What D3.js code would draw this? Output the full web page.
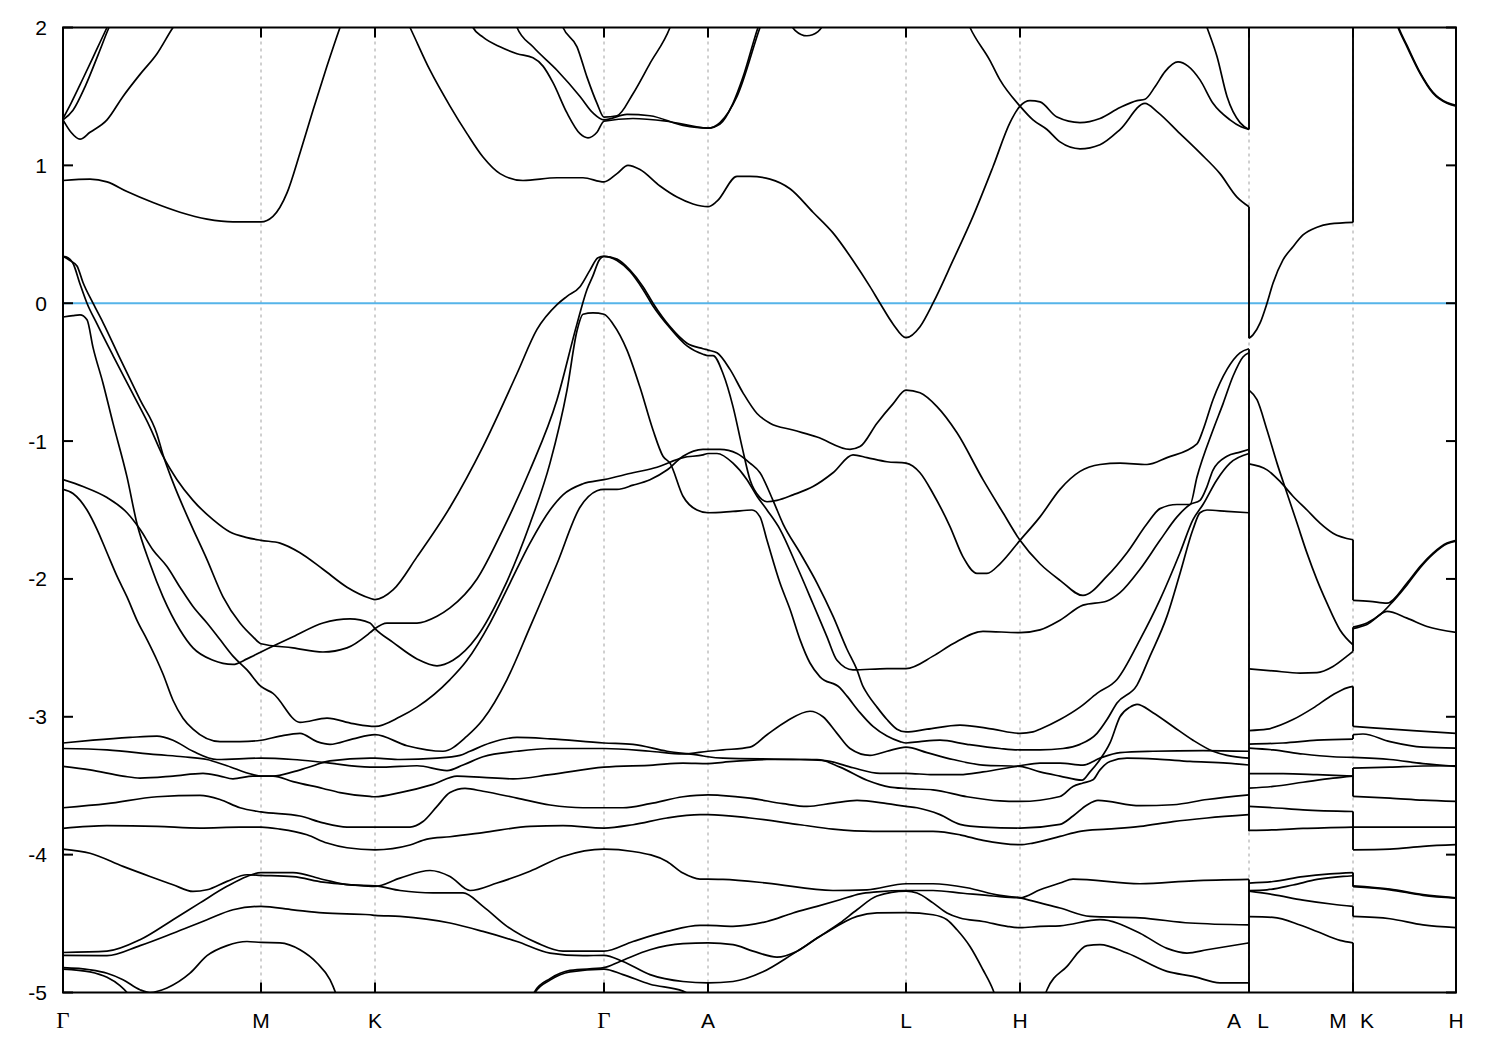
<!DOCTYPE html>
<html>
<head>
<meta charset="utf-8">
<script src="https://cdn.jsdelivr.net/npm/d3@7"></script>
<style>
  html, body { margin: 0; padding: 0; background: #ffffff; }
  svg { display: block; }
</style>
</head>
<body>
<svg id="chart" width="1500" height="1050"></svg>
<script>
// ---------------- DATA (k = path distance, E in eV) ----------------
const tickK = [0, 1.98, 3.12, 5.41, 6.45, 8.43, 9.57, 11.86, 12.90, 13.93];
const tickLabels = ["Γ", "M", "K", "Γ", "A", "L", "H", "A|L", "M|K", "H"];
const yTicks = [-5, -4, -3, -2, -1, 0, 1, 2];
const kRange = [0, 13.93];
const eRange = [-5, 2];

// segment Γ-M-K-Γ-A-L-H-A
const bandT1 = [[0,1.34],[0.08,1.45],[0.2,1.63],[0.33,1.83],[0.44,2.0],[0.52,2.12]];
const bandT2 = [[0,1.33],[0.1,1.4],[0.22,1.57],[0.35,1.8],[0.46,2.0],[0.54,2.12]];
const bandT3 = [[0,1.33],[0.08,1.24],[0.17,1.19],[0.27,1.24],[0.44,1.33],[0.6,1.5],[0.77,1.66],[0.94,1.81],[1.1,2.0],[1.2,2.1]];
const bandT4 = [[0,0.89],[0.27,0.9],[0.44,0.88],[0.64,0.81],[0.9,0.73],[1.17,0.66],[1.44,0.61],[1.7,0.59],[1.98,0.59],[2.1,0.63],[2.24,0.8],[2.37,1.09],[2.5,1.4],[2.64,1.72],[2.77,2.0],[2.87,2.2]];
const bandT5 = [[3.3,2.25],[3.47,2.0],[3.67,1.69],[3.87,1.43],[4.04,1.23],[4.2,1.06],[4.37,0.94],[4.6,0.89],[4.94,0.91],[5.2,0.91],[5.41,0.88],[5.54,0.94],[5.65,1.0],[5.77,0.97],[5.97,0.85],[6.14,0.77],[6.3,0.72],[6.45,0.7],[6.54,0.74],[6.74,0.92],[6.87,0.92],[7.07,0.9],[7.27,0.83],[7.5,0.66],[7.7,0.51],[7.9,0.31],[8.07,0.12],[8.17,0],[8.3,-0.15],[8.43,-0.25],[8.57,-0.17],[8.7,0],[8.9,0.31],[9.1,0.63],[9.3,0.99],[9.47,1.31],[9.57,1.43],[9.67,1.47],[9.77,1.46],[9.94,1.35],[10.17,1.31],[10.37,1.34],[10.57,1.42],[10.74,1.47],[10.82,1.48],[10.92,1.57],[11.02,1.68],[11.15,1.75],[11.25,1.72],[11.37,1.62],[11.5,1.45],[11.67,1.33],[11.78,1.28],[11.86,1.26]];
const bandT6 = [[4.05,2.1],[4.1,2.0],[4.2,1.93],[4.37,1.86],[4.54,1.81],[4.7,1.78],[4.8,1.72],[4.9,1.6],[5.04,1.38],[5.17,1.23],[5.25,1.2],[5.34,1.24],[5.41,1.32],[5.7,1.34],[6.04,1.32],[6.45,1.27],[6.57,1.3],[6.7,1.45],[6.8,1.64],[6.95,2.0],[7.0,2.1]];
const bandT7 = [[4.49,2.1],[4.54,2.0],[4.7,1.86],[4.94,1.69],[5.17,1.5],[5.3,1.38],[5.41,1.33],[5.64,1.37],[5.87,1.36],[6.2,1.29],[6.45,1.27],[6.57,1.31],[6.74,1.5],[6.97,2.0],[7.02,2.1]];
const bandT8 = [[4.95,2.1],[5.0,2.0],[5.14,1.86],[5.24,1.64],[5.34,1.45],[5.41,1.35],[5.54,1.36],[5.7,1.52],[5.87,1.74],[6.07,2.0],[6.12,2.1]];
const bandT9 = [[7.25,2.05],[7.32,1.98],[7.44,1.94],[7.55,1.97],[7.63,2.05]];
const bandT10 = [[9.0,2.12],[9.07,2.0],[9.27,1.76],[9.37,1.62],[9.57,1.43],[9.7,1.33],[9.84,1.26],[9.97,1.17],[10.17,1.12],[10.37,1.15],[10.57,1.26],[10.82,1.45],[10.94,1.39],[11.17,1.23],[11.37,1.09],[11.57,0.94],[11.74,0.77],[11.86,0.7]];
const bandT11 = [[11.38,2.12],[11.44,2.0],[11.54,1.79],[11.64,1.5],[11.77,1.31],[11.86,1.26]];

const bandVa = [[0,0.34],[0.05,0.33],[0.1,0.29],[0.17,0.14],[0.24,0],[0.34,-0.15],[0.5,-0.38],[0.7,-0.66],[0.87,-0.9],[1.0,-1.11],[1.14,-1.28],[1.3,-1.43],[1.5,-1.57],[1.67,-1.66],[1.84,-1.7],[1.98,-1.72],[2.17,-1.74],[2.37,-1.81],[2.6,-1.93],[2.84,-2.06],[3.07,-2.14],[3.12,-2.15],[3.3,-2.08],[3.54,-1.84],[3.87,-1.48],[4.2,-1.04],[4.54,-0.51],[4.74,-0.19],[4.94,-0.01],[5.04,0.05],[5.17,0.12],[5.27,0.24],[5.35,0.33],[5.41,0.34],[5.54,0.32],[5.67,0.24],[5.8,0.12],[5.9,0],[6.07,-0.17],[6.24,-0.29],[6.4,-0.33],[6.45,-0.34],[6.54,-0.36],[6.67,-0.48],[6.8,-0.65],[6.94,-0.8],[7.07,-0.87],[7.3,-0.92],[7.54,-0.97],[7.87,-1.06],[7.97,-1.04],[8.14,-0.87],[8.3,-0.73],[8.43,-0.63],[8.57,-0.65],[8.74,-0.75],[8.94,-0.94],[9.2,-1.28],[9.4,-1.52],[9.57,-1.72],[9.77,-1.89],[9.97,-2.01],[10.2,-2.12],[10.44,-1.98],[10.64,-1.81],[10.84,-1.6],[10.97,-1.49],[11.14,-1.46],[11.27,-1.46],[11.34,-1.26],[11.5,-0.92],[11.6,-0.73],[11.7,-0.53],[11.8,-0.39],[11.86,-0.36]];
const bandVb = [[0,0.34],[0.07,0.31],[0.14,0.27],[0.2,0.15],[0.3,0],[0.4,-0.14],[0.57,-0.4],[0.77,-0.7],[0.94,-0.95],[1.0,-1.1],[1.1,-1.3],[1.27,-1.59],[1.44,-1.86],[1.6,-2.13],[1.77,-2.32],[1.9,-2.42],[1.98,-2.47],[2.3,-2.5],[2.6,-2.53],[2.84,-2.5],[3.07,-2.39],[3.12,-2.36],[3.24,-2.32],[3.54,-2.32],[3.74,-2.27],[3.87,-2.21],[4.14,-2.0],[4.4,-1.64],[4.67,-1.21],[4.94,-0.7],[5.14,-0.15],[5.24,0.1],[5.3,0.2],[5.36,0.31],[5.41,0.34],[5.54,0.31],[5.67,0.23],[5.8,0.1],[5.9,-0.02],[6.07,-0.18],[6.24,-0.31],[6.4,-0.37],[6.45,-0.38],[6.5,-0.38],[6.6,-0.51],[6.7,-0.75],[6.79,-1.04],[6.87,-1.28],[6.97,-1.41],[7.04,-1.44],[7.14,-1.43],[7.3,-1.39],[7.5,-1.33],[7.7,-1.23],[7.9,-1.1],[8.04,-1.12],[8.24,-1.15],[8.43,-1.16],[8.57,-1.23],[8.7,-1.38],[8.87,-1.62],[9.0,-1.84],[9.14,-1.96],[9.24,-1.96],[9.37,-1.89],[9.57,-1.72],[9.77,-1.55],[9.97,-1.35],[10.17,-1.22],[10.37,-1.17],[10.57,-1.16],[10.84,-1.17],[11.04,-1.12],[11.34,-1.02],[11.4,-0.92],[11.5,-0.7],[11.64,-0.48],[11.77,-0.36],[11.86,-0.33]];
const bandVc = [[0,-0.1],[0.1,-0.09],[0.17,-0.085],[0.24,-0.12],[0.3,-0.32],[0.4,-0.58],[0.5,-0.87],[0.64,-1.26],[0.74,-1.6],[0.87,-1.89],[1.0,-2.13],[1.17,-2.37],[1.3,-2.5],[1.5,-2.59],[1.7,-2.62],[1.84,-2.58],[1.98,-2.53],[2.3,-2.42],[2.6,-2.32],[2.87,-2.29],[3.07,-2.32],[3.12,-2.36],[3.3,-2.46],[3.54,-2.58],[3.74,-2.63],[3.9,-2.59],[4.14,-2.42],[4.4,-2.08],[4.67,-1.6],[4.87,-1.16],[5.04,-0.63],[5.14,-0.2],[5.2,-0.08],[5.3,-0.07],[5.41,-0.08],[5.5,-0.15],[5.64,-0.34],[5.77,-0.61],[5.9,-0.92],[6.0,-1.11],[6.07,-1.16],[6.2,-1.4],[6.34,-1.5],[6.45,-1.52],[6.7,-1.51],[6.89,-1.5],[6.97,-1.55],[7.04,-1.72],[7.17,-2.03],[7.27,-2.22],[7.37,-2.44],[7.47,-2.61],[7.57,-2.71],[7.77,-2.79],[7.84,-2.85],[7.97,-2.97],[8.1,-3.07],[8.24,-3.14],[8.37,-3.18],[8.43,-3.19],[8.57,-3.18],[8.77,-3.17],[9.04,-3.2],[9.37,-3.23],[9.57,-3.24],[9.77,-3.24],[10.0,-3.23],[10.17,-3.2],[10.34,-3.12],[10.44,-3.02],[10.54,-2.9],[10.74,-2.77],[10.87,-2.56],[11.04,-2.27],[11.17,-1.96],[11.3,-1.64],[11.37,-1.52],[11.44,-1.5],[11.64,-1.51],[11.86,-1.52]];
const bandG1 = [[0,-1.28],[0.2,-1.33],[0.44,-1.41],[0.64,-1.52],[0.77,-1.64],[0.9,-1.79],[1.04,-1.91],[1.17,-2.06],[1.3,-2.2],[1.44,-2.32],[1.57,-2.44],[1.7,-2.56],[1.84,-2.66],[1.98,-2.78],[2.1,-2.83],[2.37,-3.04],[2.64,-3.01],[2.9,-3.05],[3.12,-3.07],[3.37,-3.0],[3.54,-2.93],[3.87,-2.73],[4.04,-2.59],[4.27,-2.32],[4.47,-2.03],[4.67,-1.74],[4.87,-1.5],[5.0,-1.39],[5.2,-1.31],[5.41,-1.28],[5.7,-1.23],[5.94,-1.19],[6.2,-1.12],[6.4,-1.1],[6.45,-1.09],[6.54,-1.09],[6.7,-1.16],[6.84,-1.28],[6.94,-1.4],[7.04,-1.5],[7.17,-1.64],[7.34,-1.91],[7.5,-2.18],[7.64,-2.42],[7.74,-2.59],[7.9,-2.66],[8.24,-2.65],[8.43,-2.65],[8.7,-2.56],[8.9,-2.47],[9.2,-2.38],[9.57,-2.39],[9.77,-2.37],[9.97,-2.3],[10.2,-2.19],[10.44,-2.16],[10.57,-2.1],[10.77,-1.93],[10.97,-1.72],[11.14,-1.55],[11.27,-1.46],[11.37,-1.43],[11.44,-1.33],[11.5,-1.21],[11.64,-1.11],[11.77,-1.08],[11.86,-1.06]];
const bandG2 = [[0,-1.35],[0.1,-1.38],[0.24,-1.5],[0.34,-1.64],[0.44,-1.81],[0.54,-1.98],[0.64,-2.13],[0.74,-2.3],[0.84,-2.44],[0.94,-2.59],[1.0,-2.69],[1.1,-2.88],[1.2,-3.01],[1.3,-3.09],[1.57,-3.18],[1.77,-3.18],[1.98,-3.17],[2.17,-3.14],[2.37,-3.12],[2.54,-3.18],[2.67,-3.2],[2.9,-3.16],[3.12,-3.13],[3.44,-3.21],[3.8,-3.25],[4.04,-3.14],[4.2,-3.02],[4.44,-2.73],[4.67,-2.35],[4.94,-1.89],[5.17,-1.48],[5.34,-1.36],[5.41,-1.35],[5.54,-1.35],[5.7,-1.32],[5.87,-1.28],[6.04,-1.21],[6.2,-1.11],[6.4,-1.06],[6.45,-1.06],[6.57,-1.06],[6.74,-1.09],[6.87,-1.16],[6.97,-1.23],[7.1,-1.43],[7.2,-1.6],[7.37,-1.81],[7.54,-2.03],[7.7,-2.27],[7.84,-2.51],[7.94,-2.66],[8.0,-2.78],[8.04,-2.83],[8.14,-2.93],[8.24,-3.02],[8.34,-3.09],[8.43,-3.11],[8.64,-3.09],[8.97,-3.06],[9.3,-3.09],[9.57,-3.12],[9.7,-3.11],[9.77,-3.09],[9.97,-3.02],[10.17,-2.93],[10.34,-2.83],[10.54,-2.73],[10.77,-2.44],[10.97,-2.15],[11.17,-1.81],[11.3,-1.57],[11.4,-1.46],[11.54,-1.28],[11.67,-1.16],[11.86,-1.09]];

const bandP1 = [[0,-3.19],[0.3,-3.17],[0.67,-3.15],[0.94,-3.14],[1.1,-3.17],[1.3,-3.25],[1.54,-3.31],[1.98,-3.3],[2.3,-3.31],[2.6,-3.33],[3.07,-3.365],[3.2,-3.365],[3.54,-3.355],[3.84,-3.39],[4.0,-3.35],[4.2,-3.29],[4.54,-3.25],[4.87,-3.23],[5.41,-3.23],[5.87,-3.25],[6.2,-3.27],[6.45,-3.25],[6.6,-3.24],[6.87,-3.22],[7.04,-3.13],[7.24,-3.03],[7.47,-2.96],[7.6,-3.0],[7.74,-3.12],[7.87,-3.23],[8.07,-3.28],[8.24,-3.25],[8.43,-3.22],[8.64,-3.26],[8.9,-3.31],[9.2,-3.35],[9.57,-3.36],[9.77,-3.4],[9.97,-3.43],[10.19,-3.46],[10.27,-3.4],[10.37,-3.31],[10.47,-3.19],[10.57,-3.0],[10.67,-2.93],[10.74,-2.91],[10.9,-2.97],[11.1,-3.07],[11.3,-3.17],[11.5,-3.25],[11.64,-3.28],[11.86,-3.3]];
const bandP2 = [[0,-3.23],[0.44,-3.24],[0.94,-3.275],[1.2,-3.29],[1.44,-3.31],[1.64,-3.355],[1.9,-3.42],[1.98,-3.43],[2.1,-3.43],[2.3,-3.47],[2.6,-3.52],[2.77,-3.55],[3.07,-3.578],[3.12,-3.58],[3.37,-3.55],[3.7,-3.49],[3.94,-3.43],[4.2,-3.44],[4.5,-3.45],[4.87,-3.42],[5.41,-3.365],[5.9,-3.35],[6.2,-3.336],[6.45,-3.34],[6.6,-3.33],[7.04,-3.31],[7.54,-3.31],[7.77,-3.365],[8.04,-3.46],[8.27,-3.51],[8.43,-3.52],[8.7,-3.53],[9.04,-3.58],[9.37,-3.61],[9.57,-3.614],[9.97,-3.578],[10.1,-3.505],[10.2,-3.48],[10.3,-3.457],[10.37,-3.385],[10.47,-3.324],[10.64,-3.3],[10.94,-3.307],[11.27,-3.324],[11.64,-3.336],[11.86,-3.35]];
const bandP3 = [[0,-3.36],[0.27,-3.385],[0.6,-3.43],[0.77,-3.445],[1.1,-3.43],[1.4,-3.41],[1.57,-3.43],[1.7,-3.45],[1.9,-3.43],[2.1,-3.43],[2.3,-3.4],[2.44,-3.37],[2.67,-3.32],[3.07,-3.3],[3.12,-3.3],[3.37,-3.31],[3.74,-3.3],[3.97,-3.28],[4.07,-3.25],[4.27,-3.19],[4.54,-3.15],[4.87,-3.16],[5.41,-3.19],[5.7,-3.2],[6.04,-3.25],[6.37,-3.28],[6.45,-3.29],[6.6,-3.3],[7.37,-3.31],[7.64,-3.32],[7.9,-3.37],[8.17,-3.41],[8.43,-3.41],[8.7,-3.42],[8.97,-3.42],[9.2,-3.4],[9.57,-3.355],[9.77,-3.336],[9.97,-3.336],[10.2,-3.35],[10.37,-3.3],[10.57,-3.26],[10.9,-3.25],[11.4,-3.245],[11.86,-3.25]];
const bandP4 = [[0,-3.66],[0.44,-3.63],[0.94,-3.58],[1.37,-3.57],[1.57,-3.6],[1.77,-3.66],[1.98,-3.69],[2.37,-3.72],[2.6,-3.77],[2.84,-3.8],[3.12,-3.8],[3.47,-3.8],[3.6,-3.76],[3.74,-3.65],[3.87,-3.55],[4.02,-3.52],[4.2,-3.54],[4.54,-3.59],[4.87,-3.64],[5.2,-3.66],[5.6,-3.66],[5.87,-3.63],[6.2,-3.58],[6.45,-3.566],[6.57,-3.57],[6.87,-3.59],[7.2,-3.63],[7.44,-3.65],[7.7,-3.626],[7.94,-3.607],[8.24,-3.63],[8.43,-3.65],[8.54,-3.66],[8.77,-3.71],[8.97,-3.78],[9.2,-3.8],[9.57,-3.807],[9.97,-3.78],[10.1,-3.72],[10.24,-3.64],[10.35,-3.607],[10.77,-3.645],[11.1,-3.638],[11.44,-3.6],[11.86,-3.566]];
const bandP5 = [[0,-3.81],[0.44,-3.79],[0.94,-3.795],[1.37,-3.807],[1.77,-3.8],[1.98,-3.8],[2.17,-3.815],[2.44,-3.856],[2.64,-3.916],[2.84,-3.95],[3.12,-3.965],[3.47,-3.93],[3.64,-3.887],[3.87,-3.87],[4.2,-3.84],[4.67,-3.795],[5.0,-3.79],[5.41,-3.807],[5.7,-3.783],[6.04,-3.734],[6.37,-3.71],[6.45,-3.71],[6.87,-3.734],[7.37,-3.783],[7.7,-3.815],[8.1,-3.831],[8.43,-3.831],[8.7,-3.831],[8.97,-3.856],[9.2,-3.897],[9.57,-3.928],[9.7,-3.916],[9.97,-3.868],[10.17,-3.831],[10.44,-3.815],[10.77,-3.795],[11.1,-3.76],[11.44,-3.734],[11.86,-3.71]];
const bandP6 = [[0,-3.96],[0.27,-3.99],[0.6,-4.085],[0.87,-4.158],[1.1,-4.218],[1.3,-4.267],[1.44,-4.255],[1.64,-4.194],[1.84,-4.146],[1.98,-4.15],[2.3,-4.16],[2.6,-4.2],[2.9,-4.22],[3.12,-4.23],[3.37,-4.17],[3.67,-4.115],[3.87,-4.158],[4.07,-4.26],[4.34,-4.206],[4.67,-4.12],[5.0,-4.013],[5.41,-3.96],[5.7,-3.977],[6.04,-4.05],[6.2,-4.134],[6.37,-4.177],[6.45,-4.177],[6.6,-4.18],[7.04,-4.206],[7.7,-4.26],[8.04,-4.255],[8.43,-4.211],[8.7,-4.211],[9.04,-4.24],[9.37,-4.296],[9.57,-4.313],[9.77,-4.35],[9.97,-4.387],[10.27,-4.448],[10.77,-4.459],[11.27,-4.496],[11.86,-4.51]];
const bandP7 = [[0,-4.71],[0.44,-4.7],[0.77,-4.617],[1.1,-4.472],[1.37,-4.35],[1.64,-4.23],[1.84,-4.158],[1.98,-4.13],[2.3,-4.13],[2.6,-4.18],[2.87,-4.22],[3.12,-4.226],[3.37,-4.26],[3.7,-4.278],[4.0,-4.278],[4.2,-4.375],[4.44,-4.52],[4.74,-4.64],[5.0,-4.7],[5.41,-4.7],[5.7,-4.63],[6.04,-4.557],[6.37,-4.513],[6.45,-4.513],[6.7,-4.52],[7.04,-4.485],[7.3,-4.423],[7.54,-4.375],[7.77,-4.327],[7.97,-4.284],[8.14,-4.27],[8.43,-4.26],[8.7,-4.26],[9.0,-4.28],[9.3,-4.3],[9.57,-4.313],[9.77,-4.255],[9.97,-4.206],[10.1,-4.177],[10.77,-4.211],[11.3,-4.19],[11.86,-4.18]];
const bandP8 = [[0,-4.73],[0.44,-4.733],[0.77,-4.66],[1.1,-4.57],[1.44,-4.472],[1.7,-4.4],[1.98,-4.375],[2.3,-4.4],[2.6,-4.423],[3.07,-4.436],[3.12,-4.44],[3.37,-4.448],[3.87,-4.496],[4.2,-4.557],[4.54,-4.63],[4.87,-4.714],[5.2,-4.733],[5.41,-4.73],[5.6,-4.775],[5.87,-4.87],[6.2,-4.92],[6.45,-4.93],[6.7,-4.92],[7.0,-4.85],[7.3,-4.72],[7.6,-4.58],[7.94,-4.448],[8.14,-4.423],[8.43,-4.42],[8.7,-4.436],[8.84,-4.472],[8.94,-4.545],[9.07,-4.666],[9.2,-4.835],[9.3,-4.98],[9.4,-5.2]];
const bandP9 = [[0,-4.82],[0.27,-4.835],[0.44,-4.86],[0.6,-4.907],[0.77,-4.98],[0.87,-5.0],[1.04,-4.967],[1.27,-4.86],[1.44,-4.733],[1.64,-4.66],[1.84,-4.63],[1.98,-4.637],[2.17,-4.64],[2.37,-4.69],[2.54,-4.786],[2.67,-4.907],[2.75,-5.05],[2.85,-5.3]];
const bandP10 = [[0,-4.83],[0.27,-4.85],[0.44,-4.89],[0.57,-4.95],[0.64,-5.0],[0.8,-5.2]];
const bandP11 = [[4.6,-5.2],[4.72,-4.99],[4.87,-4.9],[5.07,-4.84],[5.41,-4.82],[5.57,-4.775],[5.87,-4.69],[6.2,-4.646],[6.45,-4.64],[6.7,-4.653],[6.9,-4.7],[7.14,-4.743],[7.34,-4.7],[7.54,-4.605],[7.77,-4.496],[7.94,-4.4],[8.14,-4.3],[8.43,-4.265],[8.54,-4.278],[8.7,-4.35],[8.84,-4.423],[8.97,-4.46],[9.2,-4.485],[9.44,-4.52],[9.57,-4.53],[9.77,-4.52],[9.97,-4.516],[10.37,-4.472],[10.77,-4.57],[11.04,-4.68],[11.24,-4.714],[11.44,-4.69],[11.86,-4.64]];
const bandP12 = [[4.6,-5.25],[4.72,-5.0],[4.87,-4.91],[5.07,-4.85],[5.41,-4.83],[5.6,-4.87],[5.87,-4.94],[6.2,-4.99],[6.4,-5.1],[6.6,-5.3]];
const bandP13 = [[9.75,-5.2],[9.84,-4.98],[10.04,-4.81],[10.24,-4.66],[10.37,-4.653],[10.64,-4.714],[11.04,-4.847],[11.3,-4.883],[11.57,-4.93],[11.86,-4.93]];

// segment L-M
const bandR1 = [[11.86,-0.254],[11.9,-0.23],[11.97,-0.145],[12.04,0],[12.1,0.145],[12.2,0.314],[12.3,0.41],[12.4,0.495],[12.54,0.551],[12.67,0.575],[12.9,0.586]];
const bandR2 = [[11.86,-0.63],[11.94,-0.7],[12.04,-0.92],[12.14,-1.16],[12.24,-1.378],[12.34,-1.595],[12.44,-1.813],[12.54,-2.007],[12.64,-2.176],[12.77,-2.37],[12.9,-2.478]];
const bandR3 = [[11.86,-1.165],[12.04,-1.209],[12.17,-1.293],[12.3,-1.4],[12.44,-1.5],[12.57,-1.595],[12.7,-1.668],[12.9,-1.716]];
const bandR4 = [[11.86,-2.652],[12.1,-2.667],[12.37,-2.683],[12.54,-2.68],[12.7,-2.635],[12.84,-2.56],[12.9,-2.525]];
const bandR5 = [[11.86,-3.1],[12.04,-3.09],[12.3,-3.02],[12.5,-2.937],[12.7,-2.84],[12.84,-2.79],[12.9,-2.78]];
const bandR6 = [[11.86,-3.198],[12.2,-3.19],[12.54,-3.17],[12.9,-3.162]];
const bandR7 = [[11.86,-3.227],[12.1,-3.24],[12.4,-3.27],[12.7,-3.29],[12.9,-3.295]];
const bandR8 = [[11.86,-3.413],[12.2,-3.413],[12.54,-3.42],[12.9,-3.43]];
const bandR9 = [[11.86,-3.517],[12.1,-3.505],[12.4,-3.475],[12.7,-3.445],[12.9,-3.43]];
const bandR10 = [[11.86,-3.65],[12.1,-3.66],[12.4,-3.675],[12.9,-3.687]];
const bandR11 = [[11.86,-3.824],[12.1,-3.82],[12.4,-3.81],[12.9,-3.8]];
const bandR12 = [[11.86,-4.206],[12.1,-4.195],[12.4,-4.16],[12.67,-4.14],[12.9,-4.13]];
const bandR13 = [[11.86,-4.26],[12.04,-4.255],[12.3,-4.22],[12.54,-4.18],[12.8,-4.158],[12.9,-4.153]];
const bandR14 = [[11.86,-4.265],[12.1,-4.29],[12.4,-4.33],[12.7,-4.36],[12.9,-4.375]];
const bandR15 = [[11.86,-4.45],[12.1,-4.455],[12.37,-4.51],[12.54,-4.557],[12.77,-4.622],[12.9,-4.64]];

// segment K-H
const bandS1 = [[12.9,2.9],[13.1,2.55],[13.25,2.22],[13.35,2.0],[13.44,1.86],[13.57,1.668],[13.7,1.523],[13.84,1.45],[13.93,1.43]];
const bandS2 = [[12.9,2.92],[13.1,2.57],[13.25,2.23],[13.35,2.01],[13.44,1.87],[13.57,1.675],[13.7,1.53],[13.84,1.455],[13.93,1.435]];
const bandS3 = [[12.9,-2.155],[13.07,-2.163],[13.24,-2.176],[13.44,-2.03],[13.57,-1.91],[13.7,-1.813],[13.84,-1.74],[13.93,-1.72]];
const bandS4 = [[12.9,-2.35],[13.04,-2.32],[13.17,-2.26],[13.3,-2.163],[13.44,-2.043],[13.57,-1.92],[13.7,-1.82],[13.84,-1.745],[13.93,-1.725]];
const bandS5 = [[12.9,-2.36],[13.04,-2.33],[13.24,-2.236],[13.44,-2.284],[13.64,-2.345],[13.93,-2.388]];
const bandS6 = [[12.9,-3.07],[13.1,-3.08],[13.5,-3.1],[13.93,-3.12]];
const bandS7 = [[12.9,-3.13],[13.0,-3.125],[13.27,-3.18],[13.6,-3.22],[13.93,-3.227]];
const bandS8 = [[12.9,-3.295],[13.27,-3.31],[13.6,-3.34],[13.93,-3.36]];
const bandS9 = [[12.9,-3.372],[13.27,-3.365],[13.6,-3.357],[13.93,-3.355]];
const bandS10 = [[12.9,-3.578],[13.27,-3.59],[13.6,-3.605],[13.93,-3.614]];
const bandS11 = [[12.9,-3.8],[13.4,-3.8],[13.93,-3.8]];
const bandS12 = [[12.9,-3.965],[13.27,-3.96],[13.6,-3.94],[13.93,-3.928]];
const bandS13 = [[12.9,-4.226],[13.27,-4.25],[13.6,-4.29],[13.93,-4.313]];
const bandS14 = [[12.9,-4.232],[13.27,-4.255],[13.6,-4.295],[13.93,-4.315]];
const bandS15 = [[12.9,-4.448],[13.27,-4.465],[13.6,-4.51],[13.93,-4.53]];

// vertical jumps of the bands at the path discontinuities (energy spans)
const jumpALk = 11.86;
const jumpAL = [[2.2,1.26],[0.7,-0.254],[-0.334,-3.83],[-4.18,-5.2]];
const jumpMKk = 12.90;
const jumpMK = [[0.586,2.2],[-1.716,-2.155],[-2.35,-2.525],[-2.78,-3.07],[-3.13,-3.162],[-3.372,-3.578],[-3.687,-3.965],[-4.13,-4.232],[-4.375,-4.448],[-4.64,-5.2]];

const allBands = [
  bandT1, bandT2, bandT3, bandT4, bandT5, bandT6, bandT7, bandT8, bandT9, bandT10, bandT11,
  bandVa, bandVb, bandVc, bandG1, bandG2,
  bandP1, bandP2, bandP3, bandP4, bandP5, bandP6, bandP7, bandP8, bandP9, bandP10, bandP11, bandP12, bandP13,
  bandR1, bandR2, bandR3, bandR4, bandR5, bandR6, bandR7, bandR8, bandR9, bandR10, bandR11, bandR12, bandR13, bandR14, bandR15,
  bandS1, bandS2, bandS3, bandS4, bandS5, bandS6, bandS7, bandS8, bandS9, bandS10, bandS11, bandS12, bandS13, bandS14, bandS15
];

// ---------------- DRAWING ----------------
(function () {
const svg = d3.select("#chart");
const pL = 63, pR = 1456, pT = 27.5, pB = 992.5;

const x = d3.scaleLinear().domain(kRange).range([pL, pR]);
const y = d3.scaleLinear().domain(eRange).range([pB, pT]);

svg.append("rect").attr("width", 1500).attr("height", 1050).attr("fill", "#ffffff");

svg.append("defs").append("clipPath").attr("id", "plotclip")
  .append("rect").attr("x", pL).attr("y", pT)
  .attr("width", pR - pL).attr("height", pB - pT);

// vertical dashed grid at the high-symmetry points
svg.append("g").selectAll("line")
  .data(tickK.filter(k => k > kRange[0] && k < kRange[1]))
  .join("line")
  .attr("x1", d => x(d)).attr("x2", d => x(d))
  .attr("y1", pT).attr("y2", pB)
  .attr("stroke", "#a0a0a0").attr("stroke-width", 1)
  .attr("stroke-dasharray", "3,4");

// zero line (Fermi level)
svg.append("line")
  .attr("x1", x(kRange[0])).attr("x2", x(kRange[1]))
  .attr("y1", y(0)).attr("y2", y(0))
  .attr("stroke", "#56b4e9").attr("stroke-width", 2);

const plot = svg.append("g").attr("clip-path", "url(#plotclip)");

const line = d3.line()
  .x(d => x(d[0])).y(d => y(d[1]))
  .curve(d3.curveMonotoneX);

plot.selectAll("path.band")
  .data(allBands)
  .join("path")
  .attr("class", "band")
  .attr("d", line)
  .attr("fill", "none")
  .attr("stroke", "#000")
  .attr("stroke-width", 1.7)
  .attr("stroke-linejoin", "round");

function drawJumps(k, spans) {
  plot.append("g").selectAll("line")
    .data(spans)
    .join("line")
    .attr("x1", x(k)).attr("x2", x(k))
    .attr("y1", d => y(d[0])).attr("y2", d => y(d[1]))
    .attr("stroke", "#000").attr("stroke-width", 1.9);
}
drawJumps(jumpALk, jumpAL);
drawJumps(jumpMKk, jumpMK);

// border
svg.append("rect")
  .attr("x", pL).attr("y", pT)
  .attr("width", pR - pL).attr("height", pB - pT)
  .attr("fill", "none").attr("stroke", "#000").attr("stroke-width", 2);

// y ticks (inward, both sides)
const tickLen = 10;
const yt = svg.append("g");
yTicks.forEach(v => {
  yt.append("line").attr("x1", pL).attr("x2", pL + tickLen)
    .attr("y1", y(v)).attr("y2", y(v)).attr("stroke", "#000").attr("stroke-width", 2);
  yt.append("line").attr("x1", pR).attr("x2", pR - tickLen)
    .attr("y1", y(v)).attr("y2", y(v)).attr("stroke", "#000").attr("stroke-width", 2);
  yt.append("text")
    .attr("x", pL - 16).attr("y", y(v))
    .attr("text-anchor", "end").attr("dominant-baseline", "central")
    .attr("font-family", "Liberation Sans, Arial, sans-serif")
    .attr("font-size", 21)
    .text(v);
});

// x ticks (inward, top & bottom)
const xt = svg.append("g");
tickK.forEach(k => {
  xt.append("line").attr("x1", x(k)).attr("x2", x(k))
    .attr("y1", pB).attr("y2", pB - tickLen).attr("stroke", "#000").attr("stroke-width", 2);
  xt.append("line").attr("x1", x(k)).attr("x2", x(k))
    .attr("y1", pT).attr("y2", pT + tickLen).attr("stroke", "#000").attr("stroke-width", 2);
});

// x labels
tickK.forEach((k, i) => {
  const lab = tickLabels[i];
  const parts = lab.split("|");
  const offs = parts.length === 2 ? [-15, 14] : [0];
  parts.forEach((p, j) => {
    xt.append("text")
      .attr("x", x(k) + offs[j]).attr("y", 1028)
      .attr("text-anchor", "middle")
      .attr("font-family", p === "Γ" ? "Liberation Serif, Times New Roman, serif" : "Liberation Sans, Arial, sans-serif")
      .attr("font-size", p === "Γ" ? 23 : 21)
      .text(p);
  });
});
})();
</script>
